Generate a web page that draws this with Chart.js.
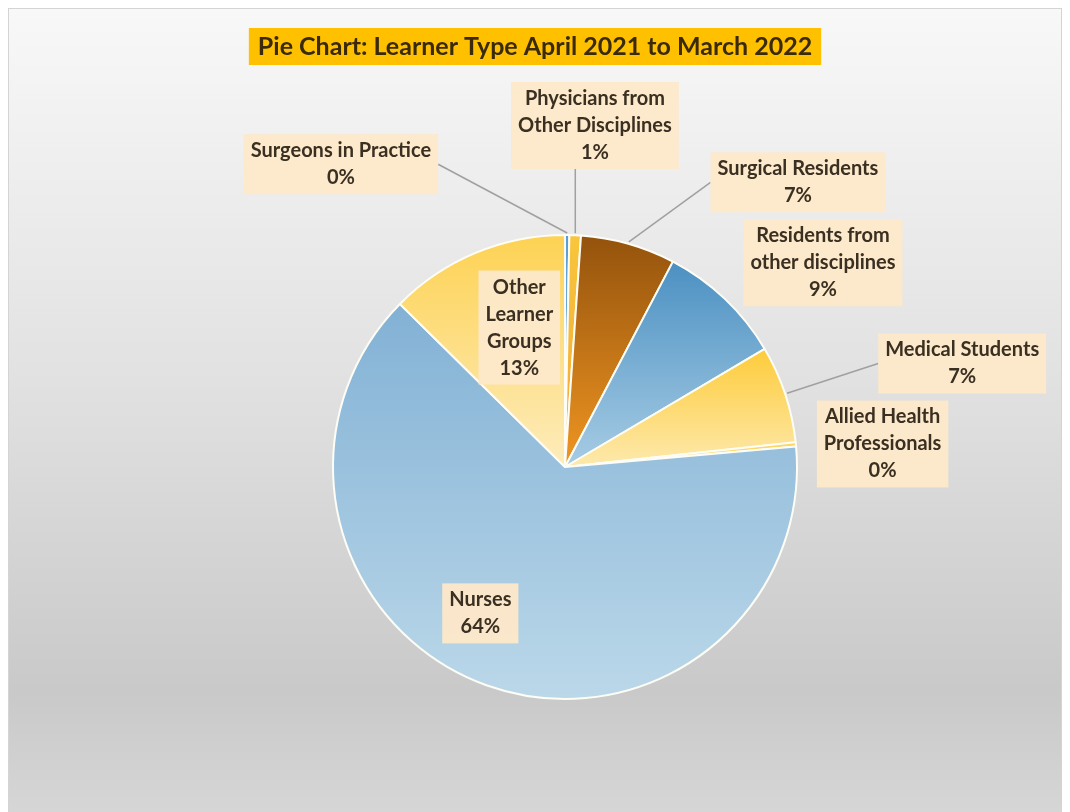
<!DOCTYPE html>
<html lang="en">
<head>
    <meta charset="UTF-8">
    <title>Learner Type April 2021 to March 2022</title>
    <script src="https://cdn.jsdelivr.net/npm/chart.js"></script>
    <style>
        html, body { margin: 0; padding: 0; background: #fff; }
        .chart-container { position: relative; width: 1070px; height: 812px; }
    </style>
</head>
<body>
    <div class="chart-container">
        <canvas id="learnerPie" width="1070" height="812"></canvas>
    </div>

    <script>
        // Data (share of learners, %)
        const categories = [
            'Surgeons in Practice',
            'Physicians from Other Disciplines',
            'Surgical Residents',
            'Residents from other disciplines',
            'Medical Students',
            'Allied Health Professionals',
            'Nurses',
            'Other Learner Groups'
        ];
        const shares = [0.3, 0.8, 6.6, 8.8, 6.8, 0.3, 63.8, 12.6];

        // how each category label is broken into lines
        const labelLines = [
            ['Surgeons in Practice'],
            ['Physicians from', 'Other Disciplines'],
            ['Surgical Residents'],
            ['Residents from', 'other disciplines'],
            ['Medical Students'],
            ['Allied Health', 'Professionals'],
            ['Nurses'],
            ['Other', 'Learner', 'Groups']
        ];

        const chartTitle = 'Pie Chart: Learner Type April 2021 to March 2022';

        // slice gradient colours (top of slice -> bottom of slice)
        const sliceTop = ['#5b9bd5', '#f8c63c', '#93520c', '#4b90c2', '#fdcc3a', '#fdd45c', '#82b1d5', '#fdd253'];
        const sliceBottom = ['#8fbbe0', '#f2a636', '#f09622', '#a7cce4', '#fde9ad', '#fde3a0', '#bbd8e9', '#fdecbc'];

        // label box centres, in pie radii from the pie centre; leader = draw a callout line
        const labelPos = [
            { dx: -0.966, dy: -1.305, leader: true },
            { dx: 0.129, dy: -1.472, leader: true },
            { dx: 1.004, dy: -1.227, leader: true },
            { dx: 1.112, dy: -0.880, leader: false },
            { dx: 1.712, dy: -0.446, leader: true },
            { dx: 1.369, dy: -0.099, leader: false },
            { dx: -0.365, dy: 0.631, leader: false },
            { dx: -0.197, dy: -0.601, leader: false }
        ];

        const labelFont = 'bold 20px Lato, "Open Sans", sans-serif';
        const titleFont = 'bold 25px Lato, "Open Sans", sans-serif';
        const total = shares.reduce((a, b) => a + b, 0);

        // vertical gradient spanning each slice's own bounding box
        function sliceFill(ctx) {
            const i = ctx.dataIndex;
            const area = ctx.chart.chartArea;
            if (ctx.type !== 'data' || !area) return sliceTop[i] || '#ccc';
            const cy = (area.top + area.bottom) / 2;
            const r = Math.min(area.right - area.left, area.bottom - area.top) / 2;
            let before = 0;
            for (let k = 0; k < i; k++) before += shares[k];
            const a0 = before / total * 2 * Math.PI;
            const a1 = (before + shares[i]) / total * 2 * Math.PI;
            const ys = [cy];
            for (let t = 0; t <= 24; t++) {
                const a = a0 + (a1 - a0) * t / 24;
                ys.push(cy - r * Math.cos(a));
            }
            const y0 = Math.min(...ys), y1 = Math.max(...ys);
            const g = ctx.chart.ctx.createLinearGradient(0, y0, 0, Math.max(y1, y0 + 1));
            g.addColorStop(0, sliceTop[i]);
            g.addColorStop(1, sliceBottom[i]);
            return g;
        }

        // grey gradient backdrop, frame and the yellow title box
        const backdrop = {
            id: 'backdrop',
            beforeDraw(chart) {
                const c = chart.ctx;
                c.save();
                c.fillStyle = '#ffffff';
                c.fillRect(0, 0, chart.width, chart.height);
                const g = c.createLinearGradient(0, 8, 0, chart.height);
                g.addColorStop(0, '#f8f8f8');
                g.addColorStop(0.45, '#e2e2e2');
                g.addColorStop(0.85, '#c9c9c9');
                g.addColorStop(1, '#d6d6d6');
                c.fillStyle = g;
                c.fillRect(8, 8, 1054, chart.height - 8);
                c.strokeStyle = '#d4d4d4';
                c.lineWidth = 1;
                c.strokeRect(8.5, 8.5, 1053, chart.height);

                c.font = titleFont;
                const w = c.measureText(chartTitle).width;
                const cx = chart.width / 2;
                c.fillStyle = '#ffc000';
                c.fillRect(cx - w / 2 - 9, 28, w + 18, 37);
                c.fillStyle = '#3a2a08';
                c.textAlign = 'center';
                c.textBaseline = 'middle';
                c.fillText(chartTitle, cx, 47);
                c.restore();
            }
        };

        // Excel-style data labels with callout boxes
        const sliceLabels = {
            id: 'sliceLabels',
            afterDatasetsDraw(chart) {
                const c = chart.ctx;
                const meta = chart.getDatasetMeta(0);
                const lineH = 27;
                c.save();
                c.font = labelFont;
                c.textAlign = 'center';
                c.textBaseline = 'middle';
                meta.data.forEach((arc, i) => {
                    const R = arc.outerRadius;
                    const lines = labelLines[i].concat([Math.round(shares[i] / total * 100) + '%']);
                    const w = Math.max(...lines.map(s => c.measureText(s).width)) + 14;
                    const h = lines.length * lineH + 6;
                    const bx = arc.x + labelPos[i].dx * R;
                    const by = arc.y + labelPos[i].dy * R;
                    const left = bx - w / 2, top = by - h / 2;

                    if (labelPos[i].leader) {
                        const mid = (arc.startAngle + arc.endAngle) / 2;
                        const px = arc.x + (R + 2) * Math.cos(mid);
                        const py = arc.y + (R + 2) * Math.sin(mid);
                        let sx, sy;
                        if (px >= left && px <= left + w) {
                            sx = px;
                            sy = py > by ? top + h : top;
                        } else if (px < left) {
                            sx = left; sy = by;
                        } else {
                            sx = left + w; sy = by;
                        }
                        c.strokeStyle = '#a0a0a0';
                        c.lineWidth = 1.5;
                        c.beginPath();
                        c.moveTo(sx, sy);
                        c.lineTo(px, py);
                        c.stroke();
                    }

                    c.fillStyle = 'rgba(253, 232, 202, 0.96)';
                    c.fillRect(left, top, w, h);
                    c.fillStyle = '#3a3022';
                    lines.forEach((s, k) => {
                        c.fillText(s, bx, top + 3 + lineH * (k + 0.5));
                    });
                });
                c.restore();
            }
        };

        const ctx = document.getElementById('learnerPie').getContext('2d');
        new Chart(ctx, {
            type: 'pie',
            data: {
                labels: categories,
                datasets: [{
                    data: shares,
                    backgroundColor: sliceFill,
                    borderColor: '#fdfdf6',
                    borderWidth: 2,
                    hoverOffset: 0
                }]
            },
            options: {
                responsive: false,
                animation: false,
                devicePixelRatio: 1,
                layout: {
                    padding: { top: 234, bottom: 112, left: 332, right: 272 }
                },
                plugins: {
                    legend: { display: false },
                    title: { display: false },
                    tooltip: { enabled: false }
                }
            },
            plugins: [backdrop, sliceLabels]
        });
    </script>
</body>
</html>
